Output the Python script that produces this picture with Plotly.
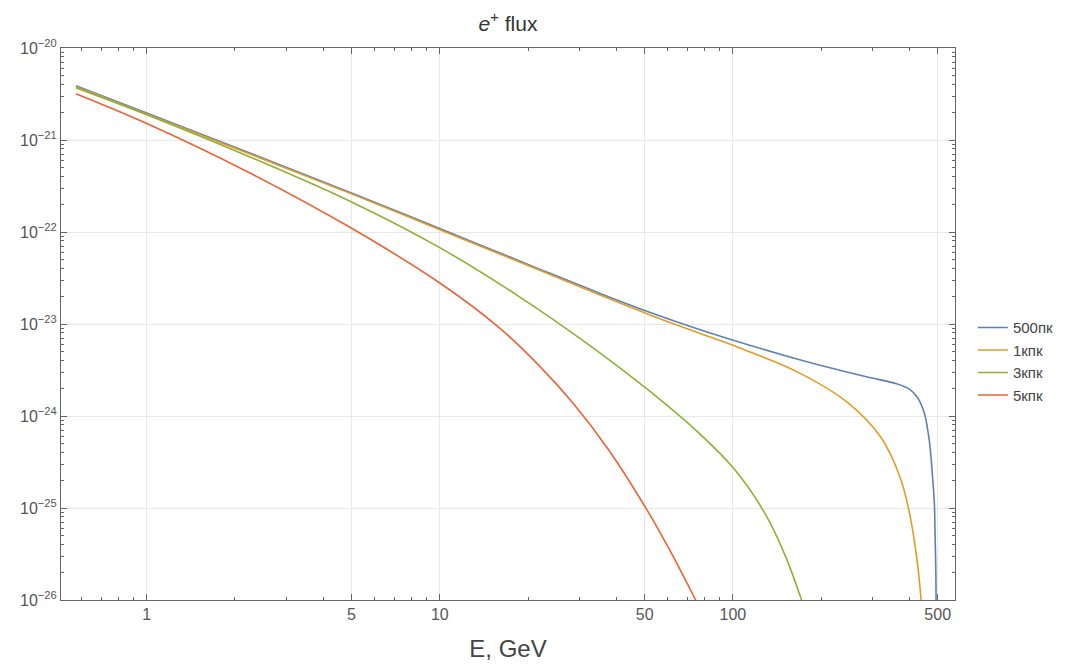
import plotly.graph_objects as go

# ---- data ----
series_names = ["500пк", "1кпк", "3кпк", "5кпк"]
series_colors = ["#5E81B5", "#E19C24", "#8FB032", "#EB6235"]

E_500pc = [0.573, 1, 5.02, 10, 20.1, 34.7, 51.4, 76.0, 101.6, 166.4, 281, 364, 400, 426, 450,
           464, 472, 479, 487, 490, 493, 494]
F_500pc = [3.88e-21, 1.97e-21, 2.64e-22, 1.09e-22, 4.42e-23, 2.19e-23, 1.36e-23, 8.83e-24,
           6.58e-24, 4.14e-24, 2.70e-24, 2.23e-24, 1.96e-24, 1.60e-24, 1.08e-24,
           6.54e-25, 4.29e-25, 2.42e-25, 1.13e-25, 4.80e-26, 1.77e-26, 6.55e-27]

E_1kpc = [0.573, 1, 5.02, 10, 20.1, 34.7, 51.4, 76.0, 101.6, 166.4, 246, 319, 373, 403, 426, 436, 443]
F_1kpc = [3.79e-21, 1.92e-21, 2.58e-22, 1.06e-22, 4.29e-23, 2.10e-23, 1.28e-23, 8.05e-24,
          5.75e-24, 3.00e-24, 1.41e-24, 5.94e-25, 2.11e-25, 8.02e-26, 2.58e-26, 1.27e-26, 6.98e-27]

E_3kpc = [0.573, 1, 2.24, 5.02, 10, 18.6, 31.4, 51.4, 76.0, 101.6, 128.5, 150.3, 170.3, 182.8]
F_3kpc = [3.70e-21, 1.88e-21, 6.58e-22, 2.11e-22, 6.76e-23, 2.00e-23, 6.32e-24, 1.92e-24,
          6.67e-25, 2.60e-25, 8.79e-26, 3.13e-26, 1.07e-26, 5.26e-27]

E_5kpc = [0.573, 1, 2.24, 5.02, 10, 15.9, 21.7, 28.6, 37.6, 51.4, 61.5, 73.1, 79.1]
F_5kpc = [3.18e-21, 1.51e-21, 4.41e-22, 1.09e-22, 2.79e-23, 9.20e-24, 3.60e-24, 1.36e-24,
          4.33e-25, 9.08e-26, 3.29e-26, 1.14e-26, 6.89e-27]

x_tickvals = [1, 5, 10, 50, 100, 500]
x_ticktext = ["1", "5", "10", "50", "100", "500"]
x_minor = [0.6, 0.7, 0.8, 0.9, 2, 3, 4, 6, 7, 8, 9, 20, 30, 40, 60, 70, 80, 90, 200, 300, 400]
y_tickvals = [1e-20, 1e-21, 1e-22, 1e-23, 1e-24, 1e-25, 1e-26]
y_ticktext = ["10<sup>−20</sup>", "10<sup>−21</sup>", "10<sup>−22</sup>", "10<sup>−23</sup>",
              "10<sup>−24</sup>", "10<sup>−25</sup>", "10<sup>−26</sup>"]
y_minor = [m * 10.0 ** e for e in range(-26, -20) for m in range(2, 10)]

xs = [E_500pc, E_1kpc, E_3kpc, E_5kpc]
ys = [F_500pc, F_1kpc, F_3kpc, F_5kpc]

FONT = "Liberation Sans, Arial, sans-serif"

fig = go.Figure()
for name, color, x, y in zip(series_names, series_colors, xs, ys):
    fig.add_trace(go.Scatter(x=x, y=y, mode="lines", name=name,
                             line=dict(color=color, width=1.6, shape="spline", smoothing=1.0)))

axis_common = dict(
    showline=True, linecolor="#666", linewidth=1, mirror="ticks",
    ticks="inside", ticklen=6, tickcolor="#666",
    showgrid=True, gridcolor="#e8e8e8", gridwidth=1,
    zeroline=False,
    tickfont=dict(family=FONT, size=16, color="#555"),
)

fig.update_xaxes(type="log", range=[-0.2925, 2.758],
                 tickvals=x_tickvals, ticktext=x_ticktext,
                 minor=dict(tickvals=x_minor, ticks="inside", ticklen=3, tickcolor="#666", showgrid=False),
                 title=dict(text="E, GeV", font=dict(family=FONT, size=24, color="#444"), standoff=17),
                 **axis_common)
fig.update_yaxes(type="log", range=[-26, -20],
                 tickvals=y_tickvals, ticktext=y_ticktext,
                 minor=dict(tickvals=y_minor, ticks="inside", ticklen=3, tickcolor="#666", showgrid=False),
                 **axis_common)

fig.update_layout(
    width=1063, height=661,
    margin=dict(l=53, r=113, t=40, b=66),
    paper_bgcolor="white", plot_bgcolor="white",
    title=dict(text="<i>e</i><sup>+</sup> flux", xref="paper", x=0.5, xanchor="center",
               y=0.976, yanchor="middle",
               font=dict(family=FONT, size=21, color="#333")),
    legend=dict(x=1.02, xanchor="left", y=0.4326, yanchor="middle",
                font=dict(family=FONT, size=15, color="#444"),
                bgcolor="rgba(0,0,0,0)", itemwidth=30, tracegroupgap=0),
    showlegend=True,
)

fig.write_html("out.html")
